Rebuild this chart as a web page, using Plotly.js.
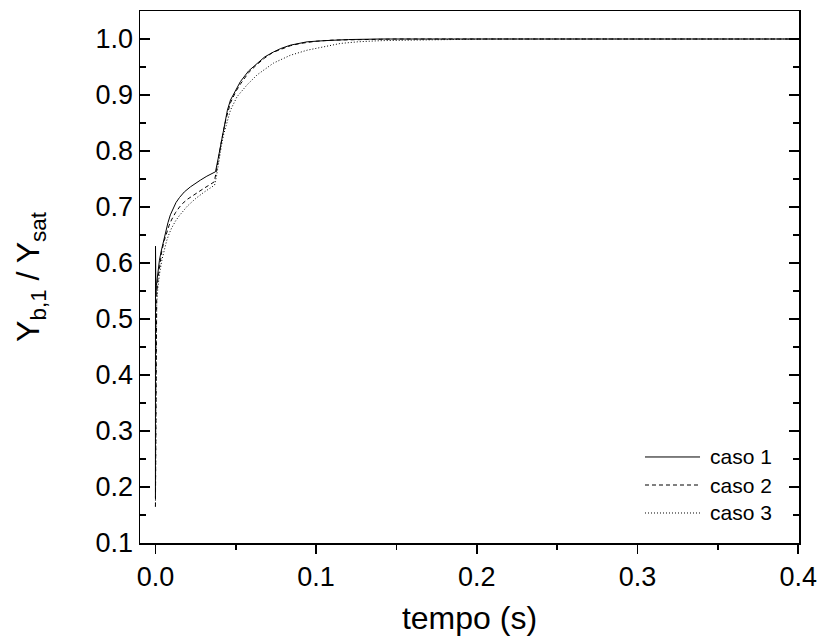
<!DOCTYPE html>
<html>
<head>
<meta charset="utf-8">
<script src="https://cdn.plot.ly/plotly-3.0.1.min.js"></script>
<style>html,body{margin:0;padding:0;background:#fff;}#chart{width:820px;height:641px;}</style>
</head>
<body>
<div id="chart"></div>
<script>
// ---- data ----
const seriesNames = ["caso 1", "caso 2", "caso 3"];

const t1 = [0, 0.00005, 0.0003, 0.0006, 0.001, 0.0017, 0.0025, 0.0035, 0.005, 0.0062, 0.0078, 0.0093, 0.011, 0.0128, 0.015, 0.018, 0.0218, 0.025, 0.028, 0.032, 0.035, 0.0374, 0.039, 0.0405, 0.0415, 0.043, 0.0448, 0.0467, 0.05, 0.0529, 0.058, 0.0633, 0.068, 0.0736, 0.078, 0.084, 0.0944, 0.105, 0.12, 0.14, 0.17, 0.2, 0.3, 0.4];
const y1 = [0.18, 0.63, 0.545, 0.56, 0.572, 0.59, 0.605, 0.62, 0.64, 0.655, 0.672, 0.686, 0.698, 0.708, 0.717, 0.727, 0.736, 0.743, 0.748, 0.755, 0.759, 0.763, 0.786, 0.81, 0.826, 0.851, 0.873, 0.891, 0.91, 0.924, 0.943, 0.957, 0.968, 0.977, 0.983, 0.989, 0.995, 0.997, 0.999, 1.0, 1.0, 1.0, 1.0, 1.0];

const t2 = [0, 0.0003, 0.0008, 0.0015, 0.0025, 0.004, 0.0055, 0.007, 0.0085, 0.01, 0.0125, 0.015, 0.0168, 0.02, 0.025, 0.03, 0.0345, 0.0366, 0.038, 0.0395, 0.041, 0.0425, 0.044, 0.0467, 0.05, 0.053, 0.058, 0.063, 0.068, 0.073, 0.078, 0.084, 0.09, 0.1, 0.11, 0.125, 0.15, 0.2, 0.3, 0.4];
const y2 = [0.165, 0.5, 0.545, 0.57, 0.595, 0.622, 0.64, 0.655, 0.667, 0.677, 0.69, 0.7, 0.706, 0.714, 0.724, 0.733, 0.741, 0.745, 0.765, 0.795, 0.816, 0.838, 0.858, 0.886, 0.906, 0.92, 0.94, 0.954, 0.966, 0.976, 0.982, 0.988, 0.992, 0.996, 0.998, 0.999, 1.0, 1.0, 1.0, 1.0];

const t3 = [0, 0.0003, 0.0008, 0.0015, 0.0025, 0.004, 0.0055, 0.007, 0.0085, 0.01, 0.0125, 0.015, 0.02, 0.025, 0.03, 0.0345, 0.0368, 0.038, 0.0395, 0.041, 0.0425, 0.0442, 0.0467, 0.0508, 0.057, 0.0633, 0.0735, 0.084, 0.0944, 0.1047, 0.115, 0.126, 0.14, 0.16, 0.18, 0.208, 0.3, 0.4];
const y3 = [0.165, 0.48, 0.53, 0.555, 0.58, 0.605, 0.625, 0.64, 0.652, 0.662, 0.675, 0.685, 0.702, 0.715, 0.726, 0.734, 0.739, 0.755, 0.785, 0.808, 0.83, 0.849, 0.873, 0.897, 0.918, 0.936, 0.957, 0.971, 0.98, 0.986, 0.992, 0.995, 0.997, 0.998, 0.999, 1.0, 1.0, 1.0];

const xTicks = [0.0, 0.1, 0.2, 0.3, 0.4];
const yTicks = [0.1, 0.2, 0.3, 0.4, 0.5, 0.6, 0.7, 0.8, 0.9, 1.0];

// ---- chart ----
const font = "Liberation Sans, Arial, Helvetica, sans-serif";
const lineStyles = ["solid", "4px,3px", "1px,2px"];
const xs = [t1, t2, t3], ys = [y1, y2, y3];

const traces = seriesNames.map((n, i) => ({
  x: xs[i], y: ys[i], name: n, type: "scatter", mode: "lines",
  line: {color: "#000", width: 1, dash: lineStyles[i]}, showlegend: false
}));

// custom legend (longer line samples, like the reference)
const legX0 = 0.7663, legX1 = 0.8498, legTx = 0.8619;
const legY = [0.1617, 0.109, 0.0564];
const shapes = seriesNames.map((n, i) => ({
  type: "line", xref: "paper", yref: "paper",
  x0: legX0, x1: legX1, y0: legY[i], y1: legY[i],
  line: {color: "#000", width: 1, dash: lineStyles[i]}
}));
const annotations = seriesNames.map((n, i) => ({
  text: n, xref: "paper", yref: "paper", x: legTx, y: legY[i],
  xanchor: "left", yanchor: "middle", showarrow: false,
  font: {family: font, size: 21, color: "#000"}
}));

const xr = [-0.0096, 0.4005];
const layout = {
  width: 820, height: 641,
  margin: {l: 140, r: 21, t: 11, b: 98},
  paper_bgcolor: "#fff", plot_bgcolor: "#fff",
  font: {family: font, color: "#000", size: 27},
  showlegend: false,
  shapes: shapes, annotations: annotations,
  xaxis: {
    range: xr, showgrid: false, zeroline: false,
    showline: true, linecolor: "#000", linewidth: 1.5, mirror: true,
    tickmode: "array", tickvals: xTicks, ticktext: xTicks.map(v => v.toFixed(1)),
    ticks: "outside", ticklen: 9, tickwidth: 1.5, tickcolor: "#000",
    minor: {dtick: 0.05, tick0: 0, ticks: "outside", ticklen: 5, tickwidth: 1.5, tickcolor: "#000", showgrid: false},
    tickfont: {family: font, size: 27},
    title: {text: "tempo (s)", font: {family: font, size: 32}, standoff: 15}
  },
  xaxis2: {
    range: xr, overlaying: "x", side: "top", anchor: "y", showgrid: false, zeroline: false,
    showline: false, showticklabels: false,
    tickmode: "array", tickvals: xTicks,
    ticks: "inside", ticklen: 9, tickwidth: 1.5, tickcolor: "#000",
    minor: {dtick: 0.05, tick0: 0, ticks: "inside", ticklen: 5, tickwidth: 1.5, tickcolor: "#000", showgrid: false}
  },
  yaxis: {
    range: [0.1, 1.05], showgrid: false, zeroline: false,
    showline: true, linecolor: "#000", linewidth: 1.5, mirror: "ticks",
    tickmode: "array", tickvals: yTicks, ticktext: yTicks.map(v => v.toFixed(1)),
    ticks: "inside", ticklen: 10, tickwidth: 1.5, tickcolor: "#000",
    minor: {dtick: 0.05, tick0: 0.05, ticks: "inside", ticklen: 6, tickwidth: 1.5, tickcolor: "#000", showgrid: false},
    tickfont: {family: font, size: 27}, ticklabelstandoff: 0,
    title: {text: "Y<sub>b,1</sub> / Y<sub>sat</sub>", font: {family: font, size: 32}, standoff: 46}
  }
};

Plotly.newPlot("chart", traces, layout, {staticPlot: true, displayModeBar: false});
</script>
</body>
</html>
